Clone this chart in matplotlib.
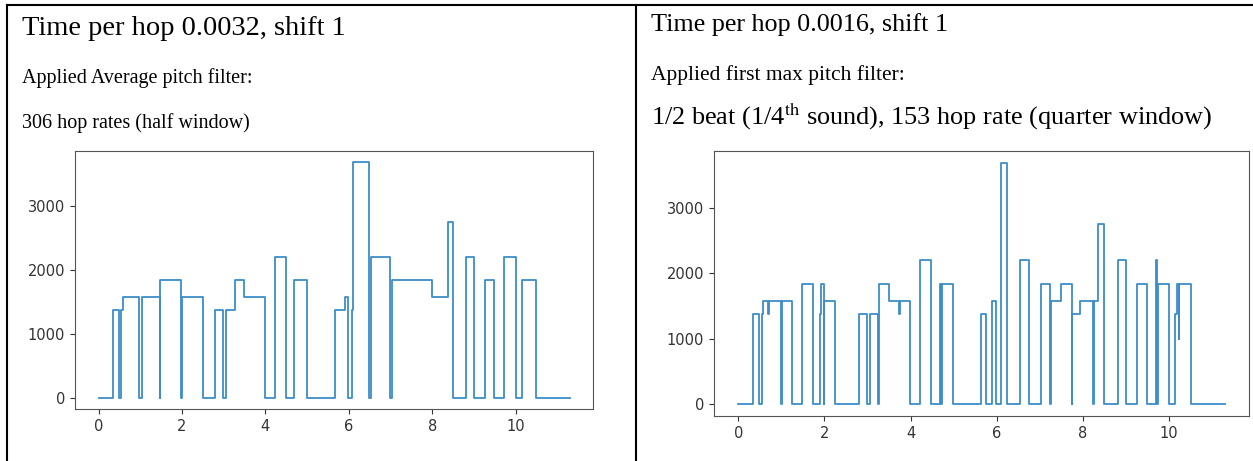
import matplotlib
matplotlib.use("Agg")
import matplotlib.pyplot as plt
from matplotlib.lines import Line2D

plt.rcParams['mathtext.fontset'] = 'stix'

# left panel: average pitch filter (times in s, pitch in Hz, step changes)
t_avg = [0, 0.34, 0.49, 0.55, 0.58, 0.975, 1.04, 1.47, 1.48, 1.98, 1.99, 2.5,
         2.79, 2.99, 3.05, 3.27, 3.48, 3.99, 4.23, 4.49, 4.68, 5.0, 5.66, 5.9,
         5.99, 6.07, 6.1, 6.49, 6.54, 7.0, 7.04, 8.0, 8.37, 8.5, 8.82, 9.0,
         9.27, 9.49, 9.72, 10.0, 10.16, 10.5, 11.3]
p_avg = [0, 1375, 0, 1375, 1580, 0, 1580, 0, 1840, 0, 1580, 0,
         1375, 0, 1375, 1840, 1580, 0, 2200, 0, 1840, 0, 1375, 1580,
         0, 1375, 3690, 0, 2200, 0, 1840, 1580, 2760, 0, 2200, 0,
         1840, 0, 2200, 0, 1840, 0, 0]

# right panel: first max pitch filter
t_max = [0, 0.35, 0.49, 0.54, 0.58, 0.69, 0.71, 0.98, 1.02, 1.25, 1.48, 1.74,
         1.9, 1.92, 1.98, 1.99, 2.24, 2.8, 2.98, 3.05, 3.24, 3.26, 3.27, 3.49,
         3.74, 3.76, 3.99, 4.22, 4.48, 4.69, 4.71, 4.72, 4.99, 5.64, 5.74, 5.89,
         5.99, 6.09, 6.1, 6.24, 6.54, 6.75, 7.02, 7.24, 7.25, 7.48, 7.74, 7.75,
         7.93, 8.24, 8.25, 8.36, 8.49, 8.82, 9.0, 9.25, 9.49, 9.7, 9.72, 9.74,
         10.0, 10.14, 10.19, 10.22, 10.24, 10.5, 11.29]
p_max = [0, 1375, 0, 1375, 1580, 1375, 1580, 0, 1580, 0, 1840, 0,
         1375, 1840, 0, 1580, 0, 1375, 0, 1375, 0, 1375, 1840, 1580,
         1375, 1580, 0, 2200, 0, 1840, 0, 1840, 0, 1375, 0, 1580,
         0, 1375, 3690, 0, 2200, 0, 1840, 0, 1580, 1840, 0, 1375,
         1580, 0, 1580, 2760, 0, 2200, 0, 1840, 0, 2200, 0, 1840,
         0, 1375, 1840, 1000, 1840, 0, 0]

left_lines = ["Time per hop 0.0032, shift 1",
              "Applied Average pitch filter:",
              "306 hop rates (half window)"]
right_lines = ["Time per hop 0.0016, shift 1",
               "Applied first max pitch filter:",
               r"1/2 beat (1/4$^{\mathrm{th}}$ sound), 153 hop rate (quarter window)"]

W, H = 1253, 461
serif = 'Liberation Serif'
fig = plt.figure(figsize=(W / 100, H / 100), dpi=100)

# table borders
kw = dict(color='black', lw=1.5, transform=fig.transFigure)
fig.add_artist(Line2D([7 / W, 1], [1 - 5 / H, 1 - 5 / H], **kw))
fig.add_artist(Line2D([7 / W, 7 / W], [0, 1 - 5 / H], **kw))
fig.add_artist(Line2D([636 / W, 636 / W], [0, 1 - 5 / H], **kw))

fig.text(22 / W, 1 - 35 / H, left_lines[0], family=serif, fontsize=20.5, va='baseline')
fig.text(22 / W, 1 - 82.5 / H, left_lines[1], family=serif, fontsize=14.5, va='baseline')
fig.text(22 / W, 1 - 128 / H, left_lines[2], family=serif, fontsize=14.5, va='baseline')

fig.text(651 / W, 1 - 31 / H, right_lines[0], family=serif, fontsize=18.8, va='baseline')
fig.text(651 / W, 1 - 79.5 / H, right_lines[1], family=serif, fontsize=15.5, va='baseline')
fig.text(651 / W, 1 - 125 / H, right_lines[2], family=serif, fontsize=18.9, va='baseline')

ax1 = fig.add_axes([75 / W, 1 - 409.3 / H, 518.3 / W, 258.6 / H])
ax2 = fig.add_axes([714 / W, 1 - 416 / H, 535 / W, 265.3 / H])

for ax, t, p in [(ax1, t_avg, p_avg), (ax2, t_max, p_max)]:
    ax.plot(t, p, drawstyle='steps-post', color='#3c8dc8', lw=1.3)
    ax.set_xticks([0, 2, 4, 6, 8, 10])
    ax.set_yticks([0, 1000, 2000, 3000])
    ax.tick_params(labelsize=10.5, colors='#333333', length=3.5)
    for lab in ax.get_xticklabels() + ax.get_yticklabels():
        lab.set_family('DejaVu Sans')
    for s in ax.spines.values():
        s.set_color('#555555')

fig.savefig('out.png', dpi=100)
